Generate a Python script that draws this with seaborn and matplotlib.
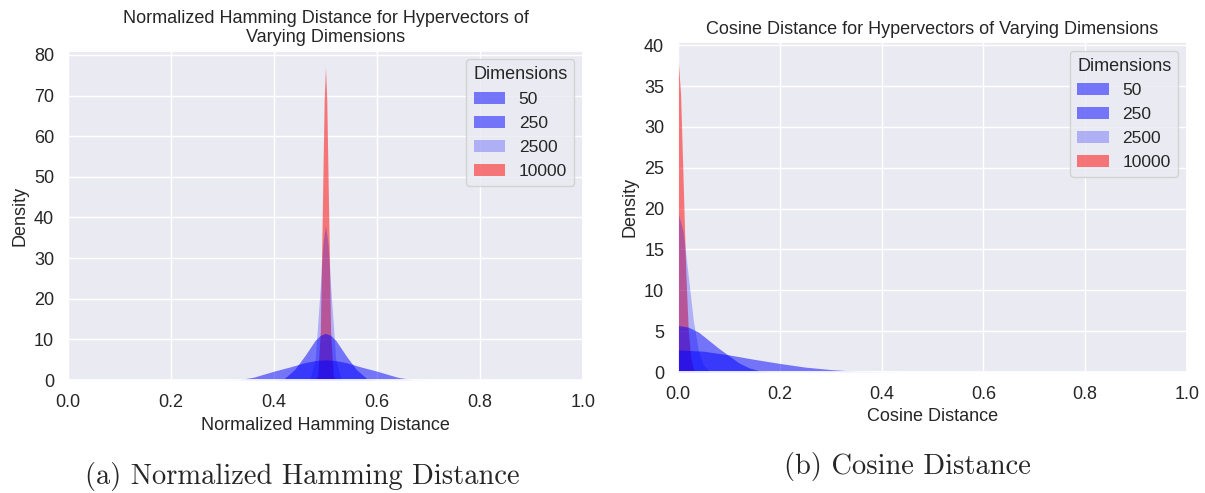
import matplotlib
matplotlib.use("Agg")
import matplotlib.pyplot as plt
import seaborn as sns
from matplotlib.patches import Patch

# Densities
dims = ["50", "250", "2500", "10000"]

ham_x_50 = [0.30, 0.33, 0.36, 0.40, 0.43, 0.46, 0.48, 0.50, 0.52, 0.54, 0.57, 0.60, 0.64, 0.67, 0.70]
ham_y_50 = [0.0, 0.1, 0.7, 2.2, 3.2, 4.3, 4.8, 5.0, 4.8, 4.3, 3.2, 2.2, 0.7, 0.1, 0.0]
ham_x_250 = [0.40, 0.42, 0.44, 0.46, 0.48, 0.49, 0.50, 0.51, 0.52, 0.54, 0.56, 0.58, 0.60]
ham_y_250 = [0.0, 0.4, 2.6, 6.0, 9.8, 11.0, 11.5, 11.0, 9.8, 6.0, 2.6, 0.4, 0.0]
ham_x_2500 = [0.465, 0.47, 0.48, 0.49, 0.495, 0.50, 0.505, 0.51, 0.52, 0.53, 0.535]
ham_y_2500 = [0.0, 0.4, 5.0, 23.0, 33.5, 38.0, 33.5, 23.0, 5.0, 0.4, 0.0]
ham_x_10000 = [0.48, 0.485, 0.49, 0.495, 0.4975, 0.50, 0.5025, 0.505, 0.51, 0.515, 0.52]
ham_y_10000 = [0.0, 1.2, 12.0, 50.0, 69.0, 77.0, 69.0, 50.0, 12.0, 1.2, 0.0]

cos_x_50 = [0.0, 0.05, 0.10, 0.15, 0.20, 0.25, 0.30, 0.35, 0.40, 0.45]
cos_y_50 = [2.7, 2.55, 2.1, 1.55, 1.05, 0.6, 0.3, 0.1, 0.03, 0.0]
cos_x_250 = [0.0, 0.02, 0.04, 0.06, 0.08, 0.10, 0.12, 0.14, 0.16, 0.18]
cos_y_250 = [5.7, 5.5, 4.9, 3.9, 2.9, 2.0, 1.1, 0.5, 0.15, 0.0]
cos_x_2500 = [0.0, 0.01, 0.02, 0.03, 0.04, 0.05, 0.06, 0.07]
cos_y_2500 = [19.5, 17.2, 11.8, 6.3, 2.6, 0.85, 0.2, 0.0]
cos_x_10000 = [0.0, 0.005, 0.01, 0.015, 0.02, 0.025, 0.03, 0.035]
cos_y_10000 = [38.5, 34.0, 23.4, 12.5, 5.2, 1.7, 0.4, 0.0]

colors = ["blue", "blue", "blue", "red"]
alphas = [0.5, 0.5, 0.25, 0.5]

sns.set_theme(style="darkgrid")
plt.rcParams["font.family"] = ["Liberation Sans", "DejaVu Sans"]

fig = plt.figure(figsize=(12.05, 4.93), dpi=100)
ax1 = fig.add_axes([0.0564, 0.229, 0.4274, 0.668])
ax2 = fig.add_axes([0.5627, 0.2454, 0.4223, 0.6694])

ham = [(ham_x_50, ham_y_50), (ham_x_250, ham_y_250),
       (ham_x_2500, ham_y_2500), (ham_x_10000, ham_y_10000)]
cos = [(cos_x_50, cos_y_50), (cos_x_250, cos_y_250),
       (cos_x_2500, cos_y_2500), (cos_x_10000, cos_y_10000)]

for ax, series in [(ax1, ham), (ax2, cos)]:
    # largest dimension first, so the blue layers sit on top of the red spike
    for (xs, ys), c, a in reversed(list(zip(series, colors, alphas))):
        ax.fill_between(xs, 0, ys, color=c, alpha=a, linewidth=0)
    ax.set_xlim(0, 1)
    ax.tick_params(labelsize=13, pad=4)
    ax.set_ylabel("Density", fontsize=13)
    handles = [Patch(facecolor=c, alpha=a, edgecolor="none") for c, a in zip(colors, alphas)]
    ax.legend(handles, dims, title="Dimensions", loc="upper right",
              fontsize=12.5, title_fontsize=13, handlelength=1.8)

ax1.set_ylim(0, 81)
ax1.set_yticks([0, 10, 20, 30, 40, 50, 60, 70, 80])
ax2.set_ylim(0, 40.4)
ax2.set_yticks([0, 5, 10, 15, 20, 25, 30, 35, 40])

ax1.set_xlabel("Normalized Hamming Distance", fontsize=13)
ax2.set_xlabel("Cosine Distance", fontsize=13)
ax1.set_title("Normalized Hamming Distance for Hypervectors of\nVarying Dimensions", fontsize=13)
ax2.set_title("Cosine Distance for Hypervectors of Varying Dimensions", fontsize=13)

fig.text(0.251, 0.018, "(a) Normalized Hamming Distance", family="cmr10", fontsize=20.5,
         ha="center", va="baseline")
fig.text(0.753, 0.038, "(b) Cosine Distance", family="cmr10", fontsize=20.5,
         ha="center", va="baseline")

fig.savefig("out.png", dpi=100)
